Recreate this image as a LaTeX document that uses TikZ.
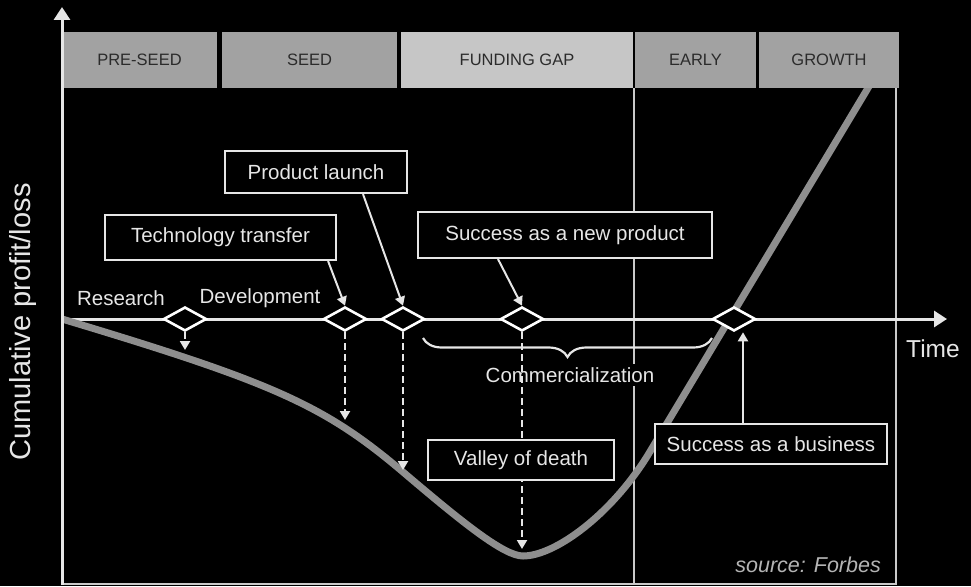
\documentclass[tikz,border=0pt]{standalone}
\usepackage{fontspec}
\setmainfont{Liberation Sans}
\usetikzlibrary{arrows.meta,shapes.geometric,decorations.pathreplacing}
\definecolor{hdrgray}{HTML}{A2A2A2}
\definecolor{gapgray}{HTML}{C6C6C6}
\definecolor{hdrtext}{HTML}{2B2B2B}
\definecolor{framegray}{HTML}{CACACA}
\definecolor{curvegray}{HTML}{8E8E8E}
\definecolor{boxwhite}{HTML}{E6E6E6}
\definecolor{srcgray}{HTML}{B4B4B4}
\begin{document}
\begin{tikzpicture}[x=1pt,y=-1pt,
  hdr/.style={rectangle, inner sep=0pt, minimum height=56pt, text=hdrtext, font=\fontsize{16.5}{18}\selectfont},
  lbl/.style={text=boxwhite, font=\fontsize{20.5}{24}\selectfont, inner sep=2pt},
  box/.style={lbl, draw=boxwhite, line width=2.2pt, fill=black, inner sep=0pt},
  dmd/.style={diamond, draw=white, fill=black, line width=2.6pt, minimum width=43pt, minimum height=24pt, inner sep=0pt},
  conn/.style={draw=boxwhite, line width=2pt, -{Triangle[width=10pt,length=9pt]}},
  dconn/.style={conn, dash pattern=on 7pt off 4pt},
  framel/.style={draw=framegray, line width=2.4pt},
  axisl/.style={draw=boxwhite, line width=3pt, -{Triangle[width=16pt,length=13pt]}},
  curvel/.style={draw=curvegray, line width=7pt},
  bracel/.style={draw=boxwhite, line width=2.2pt, decorate, decoration={brace, amplitude=19pt, mirror}},
]
\fill[black] (0,0) rectangle (971,586);
\useasboundingbox (0,0) rectangle (971,586);

% frame lines
\draw[framel] (634,88) -- (634,584);
\draw[framel] (896,88) -- (896,584);
\draw[framel] (62,584) -- (897,584);

% time axis
\coordinate (origin) at (62,319);
\coordinate (tend) at (947,319);
\draw[axisl] (origin) -- (tend);

% commercialization label (hides the vertical line)
\node[lbl, fill=black, inner sep=3pt] (comm) at (570,375) {Commercialization};

% curve
\draw[curvel] (62,319) .. controls (273.5,382.4) and (324.6,405.4) .. (403,472)
  .. controls (462.3,522.4) and (503.9,556) .. (523,556)
  .. controls (555,556) and (612.5,514.2) .. (650,451.6) -- (874,78);

% header bars
\node[hdr, fill=hdrgray, minimum width=155pt] (preseed) at (139.5,60) {PRE-SEED};
\node[hdr, fill=hdrgray, minimum width=175pt] (seed) at (309.5,60) {SEED};
\node[hdr, fill=gapgray, minimum width=232pt] (gap) at (517,60) {FUNDING GAP};
\node[hdr, fill=hdrgray, minimum width=121pt] (early) at (695.5,60) {EARLY};
\node[hdr, fill=hdrgray, minimum width=140pt] (growth) at (829,60) {GROWTH};

% y axis
\coordinate (ybot) at (62,585);
\coordinate (ytop) at (62,7);
\draw[axisl] (ybot) -- (ytop);

% brace
\coordinate (brl) at (423,338);
\coordinate (brr) at (712,338);
\draw[bracel] (brl) -- (brr);

% diamonds
\node[dmd] (d1) at (185,319) {};
\node[dmd] (d2) at (345,319) {};
\node[dmd] (d3) at (403,319) {};
\node[dmd] (d4) at (522,319) {};
\node[dmd] (d5) at (734,319) {};

% dashed arrows
\coordinate (v1) at (185,350);
\coordinate (v2) at (345,420);
\coordinate (v3) at (403,470);
\coordinate (v4) at (522,549);
\draw[dconn] (d1.south) -- (v1);
\draw[dconn] (d2.south) -- (v2);
\draw[dconn] (d3.south) -- (v3);
\draw[dconn] (d4.south) -- (v4);

% boxes
\node[box, minimum width=182pt, minimum height=42pt] (pl) at (316,172) {Product launch};
\node[box, minimum width=231pt, minimum height=45pt] (tt) at (220.5,237.5) {Technology transfer};
\node[box, minimum width=294pt, minimum height=46pt] (np) at (565,235) {Success as a new product};
\node[box, minimum width=186pt, minimum height=40pt] (vd) at (521,460) {Valley of death};
\node[box, minimum width=232pt, minimum height=40pt] (sb) at (771,444) {Success as a business};

% connectors
\draw[conn] ([xshift=-9pt]tt.south east) -- (d2.north);
\draw[conn] ([xshift=47pt]pl.south) -- (d3.north);
\draw[conn] ([xshift=-67pt]np.south) -- (d4.north);
\draw[conn] ([xshift=-28pt]sb.north) -- ([xshift=-28pt]sb.north |- d5.south);

% labels
\node[lbl] (research) at (121,298) {Research};
\node[lbl] (develop) at (260,298) {Development};
\node[lbl, font=\fontsize{24.5}{28}\selectfont] (time) at (933,349) {Time};
\node[lbl, rotate=90, font=\fontsize{29}{32}\selectfont] (ylab) at (23,322) {Cumulative profit/loss};
\node[lbl, anchor=east, text=srcgray, font=\fontsize{21.5}{24}\selectfont\itshape] (src) at (883,565) {source: Forbes};
\end{tikzpicture}
\end{document}
